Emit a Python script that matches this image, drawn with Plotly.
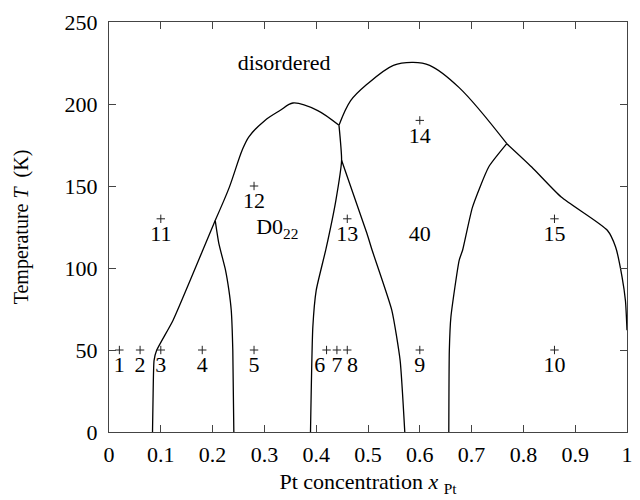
import plotly.graph_objects as go

# Phase boundary curves (x = Pt concentration, T in K)
a1_x = [0.084, 0.085, 0.087, 0.092, 0.1235, 0.181, 0.205]
a1_t = [0, 20, 43.7, 49.8, 68, 110.8, 129]
a2_x = [0.205, 0.232, 0.257, 0.27, 0.301, 0.33, 0.355, 0.403, 0.444]
a2_t = [129, 149, 171.8, 180, 190, 196, 200.6, 196, 187]
a3_x = [0.444, 0.4665, 0.498, 0.549, 0.587, 0.619, 0.676, 0.768]
a3_t = [187, 202, 212, 223.6, 225.4, 223.6, 210, 175.8]
a4_x = [0.768, 0.816, 0.873, 0.962, 0.978, 0.9905, 0.997, 1.0]
a4_t = [175.8, 161.6, 143.3, 123, 112.8, 94.5, 80, 62]
b_x = [0.205, 0.212, 0.225, 0.2315, 0.236, 0.239, 0.241]
b_t = [129, 115, 98.6, 86.4, 74.2, 49.8, 0]
c_x = [0.389, 0.3935, 0.4, 0.419, 0.438, 0.449, 0.444]
c_t = [0, 64, 86.4, 111.8, 141.3, 165.7, 187]
d_x = [0.449, 0.498, 0.508, 0.546, 0.562, 0.571]
d_t = [165.7, 121, 110.8, 74.2, 43.7, 0]
e_x = [0.768, 0.733, 0.7016, 0.6826, 0.676, 0.660, 0.657, 0.656]
e_t = [175.8, 161.6, 137, 110.8, 104.7, 70, 49.8, 0]

# Sample points
pt_x = [0.02, 0.06, 0.10, 0.18, 0.28, 0.42, 0.44, 0.46, 0.60, 0.86,
        0.10, 0.28, 0.46, 0.60, 0.86]
pt_t = [50, 50, 50, 50, 50, 50, 50, 50, 50, 50,
        130, 150, 130, 190, 130]
pt_labels = [str(i) for i in range(1, 16)]
# label anchors (labels 6-8 are spread slightly wider than their points)
label_x = [0.02, 0.06, 0.10, 0.18, 0.28, 0.407, 0.44, 0.47, 0.60, 0.86,
           0.10, 0.28, 0.46, 0.60, 0.86]

# Region labels
region_x = [0.338, 0.325, 0.60]
region_t = [224, 124, 120]
region_text = ["disordered", "D0<sub>22</sub>", "40"]

x_ticks = [0, 0.1, 0.2, 0.3, 0.4, 0.5, 0.6, 0.7, 0.8, 0.9, 1]
x_tick_text = ["0", "0.1", "0.2", "0.3", "0.4", "0.5", "0.6", "0.7", "0.8", "0.9", "1"]
y_ticks = [0, 50, 100, 150, 200, 250]

FONT = "Liberation Serif, Times New Roman, serif"
label_offset = 10.3

fig = go.Figure()
curves = [(a1_x, a1_t, 0.5), (a2_x, a2_t, 0.9), (a3_x, a3_t, 1.0), (a4_x, a4_t, 0.6),
          (b_x, b_t, 0.5), (c_x, c_t, 0.5), (d_x, d_t, 0.5), (e_x, e_t, 0.5)]
for xs, ts, sm in curves:
    fig.add_trace(go.Scatter(x=xs, y=ts, mode="lines",
                             line=dict(color="black", width=1.3, shape="spline", smoothing=sm),
                             showlegend=False, hoverinfo="skip"))

fig.add_trace(go.Scatter(x=pt_x, y=pt_t, mode="markers",
                         marker=dict(symbol="cross-thin", size=6,
                                     line=dict(color="#222", width=1)),
                         showlegend=False))
fig.add_trace(go.Scatter(x=label_x, y=[t - label_offset for t in pt_t], mode="text",
                         text=pt_labels, textposition="middle center",
                         textfont=dict(family=FONT, size=22, color="black"),
                         showlegend=False))
fig.add_trace(go.Scatter(x=region_x, y=region_t, mode="text",
                         text=region_text, textposition="middle center",
                         textfont=dict(family=FONT, size=22, color="black"),
                         showlegend=False))

axis_common = dict(showgrid=False, zeroline=False, showline=True, mirror="ticks",
                   linecolor="#444", linewidth=1.3, ticks="inside", ticklen=7,
                   tickwidth=1.3, tickcolor="#444",
                   tickfont=dict(family=FONT, size=22, color="black"))

fig.update_xaxes(range=[0, 1], tickvals=x_ticks, ticktext=x_tick_text,
                 ticklabelstandoff=2,
                 title=dict(text="Pt concentration <i>x</i> <sub>Pt</sub>",
                            font=dict(family=FONT, size=22, color="black"), standoff=8),
                 **axis_common)
fig.update_yaxes(range=[0, 250], tickvals=y_ticks, ticklabelstandoff=6,
                 title=dict(text="Temperature <i>T</i>  (K)",
                            font=dict(family=FONT, size=20, color="black"), standoff=30),
                 **axis_common)

fig.update_layout(width=640, height=500, plot_bgcolor="white", paper_bgcolor="white",
                  margin=dict(l=109, r=7, t=22, b=68), showlegend=False)

fig.write_html("out.html")
